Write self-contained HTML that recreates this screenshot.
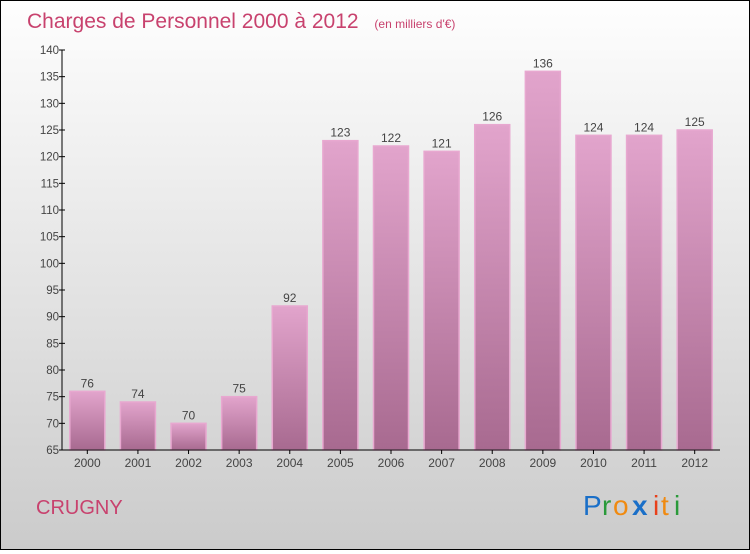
<!DOCTYPE html>
<html><head><meta charset="utf-8"><style>
body{margin:0;width:750px;height:550px;overflow:hidden}
#c{position:relative;width:748px;height:548px;border:1px solid #000;background:linear-gradient(#fefefe,#cbcbcb)}
text{font-family:"Liberation Sans",sans-serif}
</style></head><body>
<div id="c">
<svg id="s" width="748" height="548">
<defs><linearGradient id="g" x1="0" y1="0" x2="0" y2="1"><stop offset="0" stop-color="#e2a4cc"/><stop offset="1" stop-color="#a86a90"/></linearGradient></defs>
<text x="26" y="27" font-size="21" fill="#c8426e">Charges de Personnel 2000 à 2012 <tspan font-size="12" dx="10">(en milliers d'€)</tspan></text>
<text x="35" y="513" font-size="20" fill="#c8426e">CRUGNY</text>
<g font-size="28">
<text x="582" y="514" fill="#1a6fc8">P</text><text x="601" y="514" fill="#2a9a3a">r</text><text x="612" y="514" fill="#f08a10">o</text><text x="631" y="514" fill="#1a6fc8" font-weight="bold">x</text><text x="652" y="514" fill="#e8401a">i</text><text x="660" y="514" fill="#f08a10">t</text><text x="673" y="514" fill="#2a9a3a">i</text></g>
<g id="plot"></g>
</svg></div>
<script>
const categories=["2000","2001","2002","2003","2004","2005","2006","2007","2008","2009","2010","2011","2012"];
const values=[76,74,70,75,92,123,122,121,126,136,124,124,125];
const ticks=[65,70,75,80,85,90,95,100,105,110,115,120,125,130,135,140];
const x0=61,x1=719,yTop=49,yBot=449,vMin=65,vMax=140;
const y=v=>yBot-(v-vMin)/(vMax-vMin)*(yBot-yTop);
const band=(x1-x0)/categories.length;
const x=i=>x0+band*(i+0.5);
const ns="http://www.w3.org/2000/svg",p=document.getElementById('plot');
function mk(t,a,txt){const e=document.createElementNS(ns,t);for(const k in a)e.setAttribute(k,a[k]);if(txt!=null)e.textContent=txt;p.appendChild(e);return e;}
values.forEach((v,i)=>{
const r=mk('rect',{x:x(i)-17.5,y:y(v),width:35,height:yBot-y(v),fill:'url(#g)',stroke:'#e8a8d0','stroke-width':1.5});


const t=mk('text',{x:x(i),y:y(v)-4,'text-anchor':'middle','font-size':12,fill:'#444'},String(v));


const l=mk('text',{x:x(i),y:466,'text-anchor':'middle','font-size':12,fill:'#444'},categories[i]);


mk('line',{x1:x(i),x2:x(i),y1:yBot,y2:yBot+4,stroke:'#000'});
});
ticks.forEach(v=>{
mk('line',{x1:x0-3,x2:x0+3,y1:y(v),y2:y(v),stroke:'#000'});
const t=mk('text',{x:x0-3,y:y(v)+4,'text-anchor':'end','font-size':11.5,fill:'#444'},String(v));


});
const ya=mk('line',{x1:x0,x2:x0,y1:yTop,y2:yBot,stroke:'#000'});


const xa=mk('line',{x1:x0,x2:x1,y1:yBot,y2:yBot,stroke:'#000'});


</script>
</body></html>
